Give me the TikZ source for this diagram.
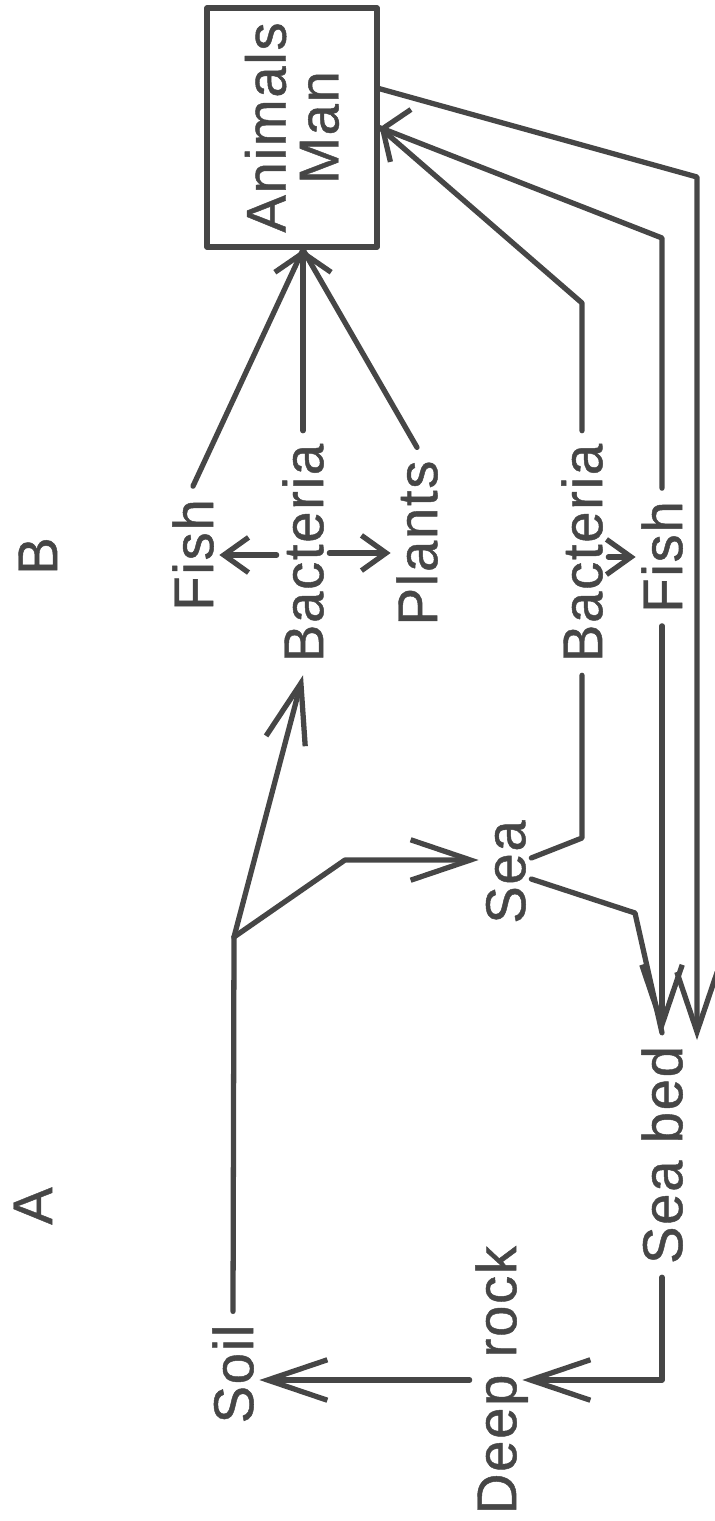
\documentclass[tikz,border=0pt]{standalone}
\usepackage{fontspec}
\setmainfont{Liberation Sans}[FakeBold=0.8, LetterSpace=3]
\usetikzlibrary{arrows.meta}
\definecolor{ink}{RGB}{70,70,70}
\begin{document}
\begin{tikzpicture}[x=0.01cm, y=-0.01cm, ink, line width=1.5pt, line cap=round, line join=round,
        lbl/.style={rotate=90, font=\fontsize{16}{15}\selectfont, inner xsep=3pt, inner ysep=1pt, text height=11.5pt, text depth=0pt},
        bigbarb/.style={-{Straight Barb[length=17pt,width=11.5pt]}},
        smallbarb/.style={-{Straight Barb[length=7pt,width=10pt]}},
        widebarb/.style={-{Straight Barb[length=5.5pt,width=16pt]}}]
            \useasboundingbox (0,0) rectangle (714,1521);

            \node[draw, rotate=90, align=center, font=\fontsize{16}{15}\selectfont, minimum width=2.39cm, minimum height=1.7cm] (box) at (292,127.5) {Animals\\Man};
            \node[lbl] (labB) at (37,556) {B};
            \node[lbl] (labA) at (32,1206) {A};
            \node[lbl] (fishA) at (193,555) {Fish};
            \node[lbl] (bactA) at (303,553) {Bacteria};
            \node[lbl] (plants) at (417,543) {Plants};
            \node[lbl] (sea) at (505,872) {Sea};
            \node[lbl] (bactB) at (582,553) {Bacteria};
            \node[lbl] (fishB) at (662,557) {Fish};
            \node[lbl] (seabed) at (662,1155) {Sea bed};
            \node[lbl] (deeprock) at (496,1380) {Deep rock};
            \node[lbl] (soil) at (233,1374) {Soil};

            \coordinate (jn) at (234,937);
            \coordinate (seabend) at (345,860);
            \coordinate (boxout) at (377,88);
            \coordinate (rightbend) at (697,177);
            \coordinate (tipR) at (697,1040);
            \coordinate (bendB) at (582,303);
            \coordinate (bendF) at (662,238);
            \coordinate (bendS) at (582,838);
            \coordinate (bendD) at (635,913);
            \coordinate (boxin) at (bactA.east |- box.west);

            \draw (soil.east) -- (jn);
            \draw[bigbarb] (jn) -- (bactA.west);
            \draw[bigbarb] (jn) -- (seabend) -- (seabend -| sea.north);
            \draw[smallbarb] (bactA.north |- fishA.south) -- (fishA.south);
            \draw[smallbarb] (bactA.south) -- (bactA.south -| plants.north);
            \draw (fishA.east) -- (boxin);
            \draw (plants.east) -- (boxin);
            \draw[widebarb] (bactA.east) -- (boxin);
            \draw ([yshift=4pt]sea.south) -- (bendS) -- (bactB.west);
            \draw[smallbarb] (bactB.south |- fishB.north) -- (fishB.north);
            \draw (bactB.east) -- (bendB) -- (box.south);
            \draw[widebarb] (fishB.east) -- (bendF) -- (box.south);
            \draw ([yshift=-2pt]sea.south) -- (bendD) -- (seabed.east);
            \draw[bigbarb] (fishB.west) -- (seabed.east);
            \draw[bigbarb] (boxout) -- (rightbend) -- (tipR);
            \draw[bigbarb] (seabed.west) |- (deeprock.south);
            \draw[bigbarb] (deeprock.north) -- (deeprock.north -| soil.south);
        \end{tikzpicture}
\end{document}
